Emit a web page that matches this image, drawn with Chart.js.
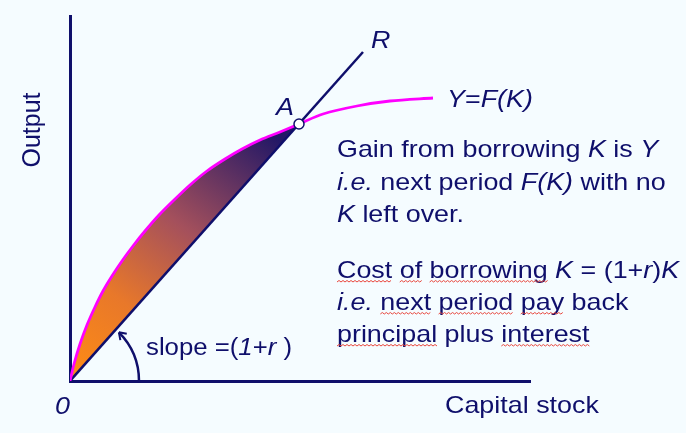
<!DOCTYPE html>
<html>
<head>
<meta charset="utf-8">
<script src="https://cdn.jsdelivr.net/npm/chart.js@4.4.1/dist/chart.umd.min.js"></script>
<style>
  html, body { margin: 0; padding: 0; background: #F5FCFF; }
  canvas { display: block; }
</style>
</head>
<body>
<canvas id="grafico" width="686" height="433"></canvas>
<script>
// Curva de producción Y = F(K)
const kCurva = [0, 4, 10, 17, 25, 33, 42, 52, 63, 75, 89, 103, 120, 137, 155, 172, 190, 210, 229, 253, 287, 320, 363];
const yCurva = [0, 17, 37, 56, 74, 90, 105, 120, 135, 150, 166, 180, 196, 210, 222, 232, 241, 249, 257, 267, 275, 280, 283];

// Recta R de pendiente (1+r)
const kRecta = [0, 293];
const yRecta = [0, 329];

// Punto A (corte de la curva con la recta)
const kPuntoA = [229];
const yPuntoA = [257];

// Límites de los ejes
const ejeX = [0, 460];
const ejeY = [0, 365];

const AZUL = '#0F0F6B';
const MAGENTA = '#FF00FF';
const SX = 1.12; // el texto original es algo más ancho
const FUENTE = '"Liberation Sans", Arial, sans-serif';

const aPuntos = (xs, ys) => xs.map((x, i) => ({ x: x, y: ys[i] }));

// Tramo de la curva hasta A para el relleno
const nA = kCurva.indexOf(kPuntoA[0]) + 1;
const puntosRelleno = aPuntos(kCurva.slice(0, nA), yCurva.slice(0, nA));

function degradado(ctx) {
    const chart = ctx.chart;
    if (!chart.chartArea) return 'rgba(0,0,0,0)';
    const sx = chart.scales.x, sy = chart.scales.y;
    const g = chart.ctx.createLinearGradient(
        sx.getPixelForValue(0), sy.getPixelForValue(0),
        sx.getPixelForValue(kPuntoA[0]) - 40, sy.getPixelForValue(yPuntoA[0]));
    g.addColorStop(0, '#FF8C14');
    g.addColorStop(0.3, '#E8782A');
    g.addColorStop(0.6, '#A4505C');
    g.addColorStop(1, '#221766');
    return g;
}

function ondulada(ctx, x0, x1, y) {
    ctx.save();
    ctx.strokeStyle = '#E8463C';
    ctx.lineWidth = 1;
    ctx.beginPath();
    let arriba = true;
    ctx.moveTo(x0, y);
    for (let x = x0 + 2; x <= x1; x += 2) {
        ctx.lineTo(x, arriba ? y - 1.5 : y);
        arriba = !arriba;
    }
    ctx.stroke();
    ctx.restore();
}

function escribir(ctx, partes, x, y, tam) {
    let cx = x;
    partes.forEach(([texto, estilo]) => {
        ctx.font = (estilo.includes('i') ? 'italic ' : '') + tam + 'px ' + FUENTE;
        const ancho = ctx.measureText(texto).width * SX;
        ctx.save();
        ctx.translate(cx, y);
        ctx.scale(SX, 1);
        ctx.fillText(texto, 0, 0);
        ctx.restore();
        if (estilo.includes('w')) ondulada(ctx, cx, cx + ancho, y + 4);
        cx += ancho;
    });
}

const textos = {
    id: 'textos',
    afterDraw(chart) {
        const ctx = chart.ctx;
        const sx = chart.scales.x, sy = chart.scales.y;
        const ox = sx.getPixelForValue(0), oy = sy.getPixelForValue(0);
        ctx.save();
        ctx.fillStyle = AZUL;
        ctx.textBaseline = 'alphabetic';
        ctx.textAlign = 'left';

        // arco de la pendiente con flecha
        const ang = Math.atan2(sy.getPixelForValue(0) - sy.getPixelForValue(yRecta[1]),
                               sx.getPixelForValue(kRecta[1]) - ox);
        const r = 69, fin = ang - 0.06;
        ctx.strokeStyle = AZUL;
        ctx.lineWidth = 2.5;
        ctx.beginPath();
        ctx.arc(ox, oy, r, 0, -fin, true);
        ctx.stroke();
        const px = ox + r * Math.cos(fin), py = oy - r * Math.sin(fin);
        const vx = Math.sin(fin), vy = Math.cos(fin); // hacia atrás
        ctx.lineWidth = 2;
        ctx.beginPath();
        [0.6, -0.6].forEach(a => {
            const bx = vx * Math.cos(a) - vy * Math.sin(a);
            const by = vx * Math.sin(a) + vy * Math.cos(a);
            ctx.moveTo(px + bx * 8, py + by * 8);
            ctx.lineTo(px, py);
        });
        ctx.stroke();

        // etiquetas de la gráfica
        const ax = sx.getPixelForValue(kPuntoA[0]), ay = sy.getPixelForValue(yPuntoA[0]);
        escribir(ctx, [['A', 'i']], ax - 23, ay - 9, 24);
        const rx = sx.getPixelForValue(kRecta[1]), ry = sy.getPixelForValue(yRecta[1]);
        escribir(ctx, [['R', 'i']], rx + 8, ry - 4, 24);
        const fx = sx.getPixelForValue(kCurva[kCurva.length - 1]), fy = sy.getPixelForValue(yCurva[yCurva.length - 1]);
        escribir(ctx, [['Y', 'i'], ['=', ''], ['F(K)', 'i']], fx + 14, fy + 9, 24);
        escribir(ctx, [['0', 'i']], ox - 15, oy + 33, 24);
        escribir(ctx, [['slope =(', ''], ['1', 'i'], ['+', ''], ['r', 'i'], [' )', '']], 146, 355, 23);
        escribir(ctx, [['Capital stock', '']], 445, 413, 24);

        // eje vertical
        ctx.save();
        ctx.translate(40, 130);
        ctx.rotate(-Math.PI / 2);
        ctx.textAlign = 'center';
        ctx.font = '25px ' + FUENTE;
        ctx.fillText('Output', 0, 0);
        ctx.restore();

        // explicación
        escribir(ctx, [['Gain from borrowing ', ''], ['K', 'i'], [' is ', ''], ['Y', 'i']], 337, 157, 24);
        escribir(ctx, [['i.e.', 'i'], [' next period ', ''], ['F(K)', 'i'], [' with no', '']], 337, 190, 24);
        escribir(ctx, [['K', 'i'], [' left over.', '']], 337, 222, 24);

        escribir(ctx, [['Cost', 'w'], [' ', ''], ['of', 'w'], [' ', ''], ['borrowing', 'w'], [' ', ''],
                       ['K', 'i'], [' = (1+', ''], ['r', 'i'], [')', ''], ['K', 'i']], 337, 278, 24);
        escribir(ctx, [['i.e.', 'i'], [' ', ''], ['next', 'w'], [' ', ''], ['period', 'w'], [' ', ''],
                       ['pay', 'w'], [' back', '']], 337, 310, 24);
        escribir(ctx, [['principal', 'w'], [' plus ', ''], ['interest', 'w']], 337, 342, 24);
        ctx.restore();
    }
};

new Chart(document.getElementById('grafico').getContext('2d'), {
    type: 'line',
    data: {
        datasets: [
            {
                label: 'Ganancia',
                data: puntosRelleno,
                borderWidth: 0,
                pointRadius: 0,
                tension: 0.3,
                backgroundColor: degradado,
                fill: { target: 1 },
                order: 4
            },
            {
                label: 'R',
                data: aPuntos(kRecta, yRecta),
                borderColor: AZUL,
                borderWidth: 2.5,
                pointRadius: 0,
                fill: false,
                order: 3
            },
            {
                label: 'Y=F(K)',
                data: aPuntos(kCurva, yCurva),
                borderColor: MAGENTA,
                borderWidth: 2.8,
                pointRadius: 0,
                tension: 0.3,
                fill: false,
                order: 2
            },
            {
                label: 'A',
                data: aPuntos(kPuntoA, yPuntoA),
                showLine: false,
                pointRadius: 5,
                pointBackgroundColor: '#FFFFFF',
                pointBorderColor: AZUL,
                pointBorderWidth: 1.5,
                order: 1
            }
        ]
    },
    options: {
        responsive: false,
        animation: false,
        layout: { padding: { left: 70, right: 156, top: 16, bottom: 52 } },
        plugins: {
            legend: { display: false },
            tooltip: { enabled: false },
            filler: { drawTime: 'beforeDatasetsDraw' }
        },
        scales: {
            x: {
                type: 'linear', min: ejeX[0], max: ejeX[1],
                grid: { display: false, drawTicks: false },
                ticks: { display: false },
                border: { display: true, color: AZUL, width: 3 },
                afterFit: (s) => { s.height = 0; }
            },
            y: {
                type: 'linear', min: ejeY[0], max: ejeY[1],
                grid: { display: false, drawTicks: false },
                ticks: { display: false },
                border: { display: true, color: AZUL, width: 3 },
                afterFit: (s) => { s.width = 0; }
            }
        }
    },
    plugins: [textos]
});
</script>
</body>
</html>
